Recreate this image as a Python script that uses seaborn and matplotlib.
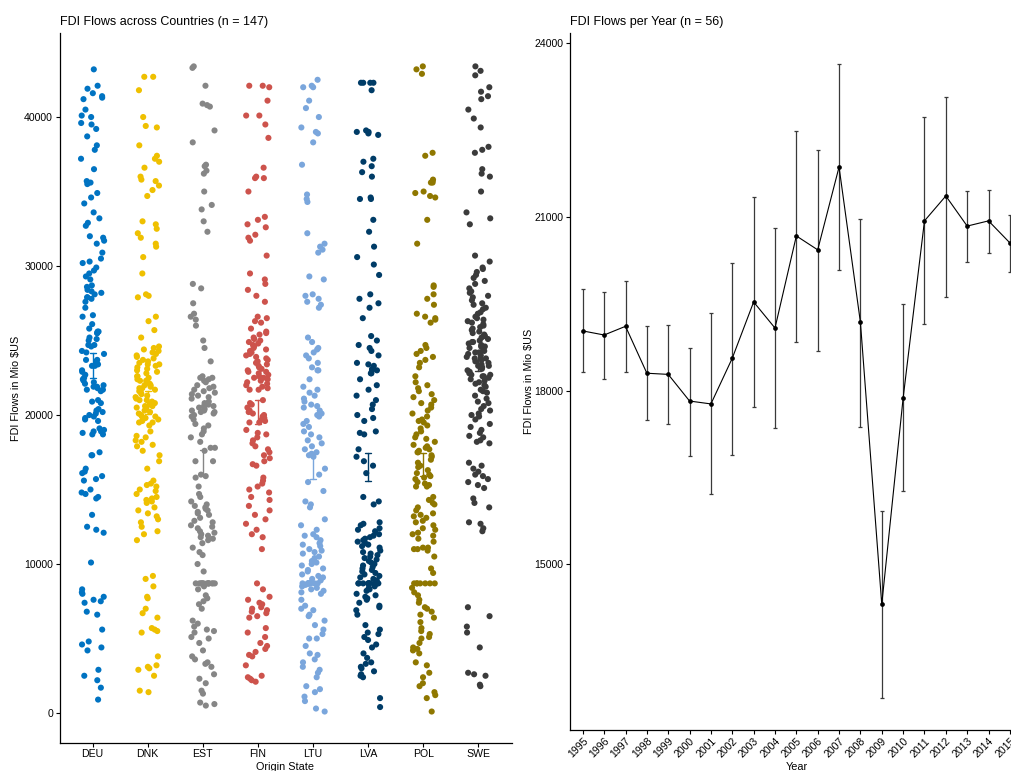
import numpy as np
import pandas as pd
import matplotlib
matplotlib.use("Agg")
import matplotlib.pyplot as plt
import seaborn as sns

# ---------------------------------------------------------------- data
countries = ["DEU", "DNK", "EST", "FIN", "LTU", "LVA", "POL", "SWE"]
country_colors = ["#0073C2", "#EFC000", "#868686", "#CD534C",
                  "#7AA6DC", "#003C67", "#8F7700", "#3B3B3B"]

# FDI flows (Mio $US) per origin state, 147 observations each
deu = [43200, 42100, 41900, 41600, 41400, 41300, 41200, 40500, 40100, 40000, 39600, 39500,
       39200, 38700, 38100, 37800, 37200, 36500, 35700, 35600, 35500, 34900, 34600, 34200,
       33600, 33200, 32900, 32700, 32000, 31900, 31700, 31500, 30900, 30500, 30300, 30200,
       29900, 29700, 29500, 29300, 29100, 28700, 28600, 28400, 28300, 28200, 28100, 27900,
       27900, 27800, 27600, 27200, 26700, 26600, 26100, 25800, 25600, 25600, 25500, 25500,
       25200, 25100, 25000, 24700, 24700, 24600, 24300, 24200, 24100, 23700, 23700, 23600,
       23400, 23300, 23300, 23000, 22900, 22700, 22500, 22400, 22300, 22200, 22100, 22000,
       21900, 21900, 21800, 21700, 21700, 21600, 21000, 20900, 20800, 20400, 20300, 20200,
       20100, 20000, 19900, 19800, 19700, 19600, 19100, 19000, 18900, 18900, 18800, 18700,
       18700, 17500, 17300, 17300, 16400, 16200, 16100, 15900, 15700, 15600, 15000, 14800,
       14700, 14500, 14400, 13300, 12500, 12300, 12100, 10100, 8300, 8100, 8000, 7800, 7600,
       7500, 7400, 6800, 6600, 5600, 4800, 4600, 4400, 4200, 2900, 2500, 2200, 1700, 900]

dnk = [42700, 42700, 41800, 40000, 39400, 39300, 38100, 37400, 37200, 37000, 36600, 36000,
       35800, 35700, 35400, 35100, 34700, 33000, 32800, 32500, 32200, 31900, 31500, 31300,
       30600, 29500, 28100, 28000, 27900, 26600, 26300, 25700, 25200, 24600, 24500, 24400,
       24300, 24200, 24100, 24000, 23900, 23800, 23700, 23600, 23500, 23400, 23400, 23300,
       23200, 23100, 23000, 22900, 22800, 22600, 22600, 22500, 22400, 22300, 22300, 22200,
       22100, 22000, 22000, 21900, 21800, 21800, 21700, 21600, 21500, 21400, 21300, 21200,
       21100, 21000, 21000, 20900, 20800, 20700, 20600, 20600, 20500, 20400, 20300, 20200,
       20100, 20000, 19900, 19900, 19800, 19700, 19600, 19500, 19500, 19300, 18900, 18600,
       18500, 18300, 18200, 18000, 17900, 17600, 17300, 16900, 16400, 15600, 15400, 15300,
       15200, 15000, 14900, 14700, 14500, 14400, 14300, 14200, 14100, 13800, 13600, 13400,
       13200, 13000, 12800, 12500, 12200, 12000, 11600, 9200, 9000, 8500, 7800, 7700, 7000,
       6700, 6400, 5700, 5600, 5500, 5400, 3800, 3200, 3100, 3000, 2900, 2500, 1500, 1400]

est = [43400, 43300, 42100, 40900, 40800, 40700, 39100, 38300, 36800, 36700, 36400, 36200,
       35000, 34100, 33800, 33000, 32300, 28800, 28500, 27500, 26800, 26600, 26400, 26000,
       25000, 24500, 23600, 22600, 22500, 22500, 22400, 22300, 22200, 22000, 21900, 21800,
       21700, 21600, 21500, 21400, 21300, 21200, 21100, 20900, 20800, 20700, 20600, 20600,
       20500, 20400, 20300, 20300, 20200, 20200, 20100, 20000, 19900, 19700, 19400, 19300,
       19100, 18900, 18700, 18500, 18200, 17800, 17800, 17600, 16900, 16900, 16000, 15900,
       15800, 15200, 14700, 14500, 14200, 14000, 13900, 13800, 13700, 13600, 13500, 13400,
       13300, 13100, 12900, 12800, 12600, 12500, 12400, 12200, 12100, 12000, 11900, 11800,
       11700, 11600, 11400, 11100, 10800, 10600, 10000, 9500, 8700, 8700, 8700, 8700, 8700,
       8700, 8700, 8700, 8700, 8700, 8700, 8700, 8700, 8500, 8300, 7900, 7700, 7500, 7300,
       7000, 6200, 6000, 5800, 5600, 5500, 5400, 5100, 5000, 4700, 4200, 3800, 3600, 3400,
       3300, 3100, 2600, 2300, 2000, 1500, 1300, 700, 600, 500]

fin = [42100, 42100, 42000, 41100, 40100, 40100, 39500, 38600, 36600, 36000, 35900, 35900,
       35000, 33300, 33100, 32800, 32600, 32100, 31900, 31700, 30700, 29500, 29100, 28800,
       28400, 28000, 27600, 26600, 26500, 26300, 26200, 25800, 25600, 25500, 25400, 25200,
       25100, 25000, 24900, 24800, 24700, 24600, 24500, 24400, 24300, 24200, 24100, 24000,
       23900, 23800, 23700, 23600, 23500, 23400, 23300, 23200, 23100, 23000, 22900, 22900,
       22800, 22700, 22600, 22500, 22500, 22400, 22300, 22200, 22100, 22000, 21900, 21800,
       21700, 21700, 21000, 20800, 20700, 20500, 20300, 20200, 20100, 20000, 19900, 19800,
       19700, 19600, 19500, 19500, 19000, 18800, 18700, 18500, 18300, 18100, 17900, 17700,
       17500, 17300, 17100, 16900, 16700, 16600, 15800, 15600, 15400, 15200, 15000, 14800,
       14500, 14300, 13900, 13600, 13300, 13000, 12700, 12300, 12000, 11800, 11000, 8700,
       8300, 7800, 7600, 7400, 7300, 7100, 7000, 6900, 6800, 6700, 6500, 6400, 5700, 5400,
       5100, 4700, 4500, 4300, 4100, 3900, 3800, 3200, 2500, 2400, 2300, 2200, 2100]

ltu = [42500, 42100, 42000, 42000, 41100, 40600, 40000, 39300, 39000, 38900, 38300, 36800,
       34800, 34500, 34300, 32200, 31500, 31300, 31100, 30900, 29300, 29100, 28100, 28000,
       27800, 27600, 27400, 27200, 25200, 24900, 24500, 24400, 24200, 24000, 23800, 23500,
       23200, 23000, 23000, 22400, 21900, 21700, 21500, 21300, 21100, 20900, 20700, 20600,
       20500, 20300, 20100, 20000, 19900, 19600, 19400, 19200, 18900, 18700, 18500, 18300,
       18100, 17900, 17700, 17500, 17400, 17300, 17200, 16400, 16000, 15500, 14900, 14200,
       14000, 13800, 13000, 12600, 12300, 12000, 11900, 11800, 11600, 11400, 11300, 11200,
       11000, 10900, 10800, 10700, 10500, 10400, 10200, 10100, 10000, 9900, 9700, 9600, 9500,
       9300, 9200, 9100, 9000, 8900, 8700, 8700, 8700, 8700, 8700, 8700, 8700, 8700, 8700,
       8700, 8600, 8500, 8400, 8300, 8200, 8100, 8000, 7600, 7200, 7000, 6900, 6600, 6500,
       6200, 5900, 5600, 5300, 5000, 5000, 4500, 4000, 3900, 3600, 3400, 3100, 2900, 2700,
       2400, 1800, 1600, 1400, 1100, 800, 300, 100]

lva = [42300, 42300, 42300, 42300, 41800, 39100, 39000, 39000, 38900, 38800, 37200, 37000,
       36700, 36300, 36000, 34600, 34500, 34500, 33100, 32300, 31300, 30600, 30100, 29400,
       28100, 27800, 27500, 27200, 26500, 25300, 25000, 24700, 24500, 24300, 24000, 23500,
       23400, 23300, 23100, 23000, 23000, 22800, 22800, 22400, 22000, 21700, 21300, 21000,
       20700, 20400, 20000, 19800, 19600, 18900, 18800, 18700, 17700, 17200, 16900, 16600,
       16100, 14500, 14200, 14000, 12800, 12700, 12600, 12400, 12300, 12200, 12000, 11900,
       11800, 11700, 11600, 11500, 11400, 11300, 11200, 11100, 10900, 10800, 10700, 10600,
       10500, 10400, 10300, 10200, 10100, 10000, 9900, 9800, 9700, 9600, 9500, 9400, 9300,
       9200, 9100, 9000, 8900, 8700, 8700, 8700, 8700, 8700, 8700, 8700, 8700, 8700, 8700,
       8700, 8700, 8500, 8400, 8300, 8200, 8000, 7900, 7800, 7700, 7600, 7400, 7200, 7100,
       6900, 6600, 5900, 5600, 5400, 5300, 5100, 4900, 4600, 4400, 4000, 3700, 3400, 3300,
       3100, 3000, 2800, 2600, 2500, 2400, 1000, 400]

pol = [43400, 43200, 42900, 37600, 37400, 35800, 35700, 35600, 35600, 35000, 34900, 34700,
       34600, 33100, 31500, 28700, 28600, 28100, 27800, 27400, 26800, 26600, 26500, 26400,
       26200, 24700, 24500, 24300, 24100, 23900, 23700, 23500, 23200, 22600, 22200, 22000,
       21800, 21600, 21400, 21200, 21000, 20800, 20700, 20500, 20300, 20100, 19900, 19700,
       19600, 19500, 19300, 19100, 18900, 18700, 18500, 18400, 18200, 18000, 17900, 17800,
       17700, 17600, 17500, 17500, 17300, 17200, 17000, 16800, 16600, 16500, 16300, 16100,
       16000, 15900, 15800, 15700, 15500, 15400, 15300, 15200, 15200, 14500, 14300, 14100,
       14000, 13800, 13600, 13400, 13300, 13200, 13100, 12900, 12800, 12600, 12400, 12300,
       12100, 12000, 11900, 11700, 11500, 11100, 11100, 11000, 11000, 10900, 10500, 9700,
       9400, 8700, 8700, 8700, 8700, 8700, 8700, 8700, 8400, 8100, 7900, 7600, 7400, 7100,
       7000, 6800, 6600, 6400, 6100, 5700, 5500, 5300, 5100, 5000, 4700, 4400, 4300, 4200,
       4000, 3400, 3200, 2700, 2400, 2000, 1800, 1400, 1200, 1000, 100]

swe = [43400, 43100, 42800, 42000, 41700, 41400, 41200, 40500, 39900, 39300, 38000, 37800,
       37600, 36500, 36200, 36000, 35000, 33600, 33200, 32800, 30700, 30300, 29900, 29800,
       29600, 29400, 29200, 29000, 28800, 28500, 28300, 28200, 28000, 27900, 27700, 27500,
       27400, 27200, 27100, 26900, 26800, 26600, 26500, 26400, 26300, 26200, 26100, 26000,
       25900, 25800, 25700, 25600, 25500, 25400, 25300, 25300, 25200, 25100, 25000, 24900,
       24900, 24800, 24700, 24600, 24600, 24500, 24400, 24300, 24200, 24200, 24100, 24000,
       23900, 23800, 23800, 23700, 23600, 23500, 23400, 23300, 23300, 23200, 23100, 23000,
       22900, 22800, 22700, 22700, 22600, 22600, 22500, 22400, 22300, 22200, 22100, 22000,
       21900, 21700, 21600, 21500, 21300, 21100, 20900, 20800, 20600, 20400, 20300, 20100,
       20000, 19900, 19700, 19400, 19200, 19000, 18800, 18600, 18500, 18300, 18200, 18100,
       16800, 16600, 16400, 16200, 16000, 15900, 15700, 15500, 15300, 15100, 14400, 14100,
       13800, 12800, 12700, 12400, 12200, 7100, 6500, 5800, 5400, 4400, 2700, 2600, 2500,
       1900, 1800]

# yearly mean with lower / upper error limits (Mio $US)
years = [str(y) for y in range(1995, 2016)]
year_mean = [19030, 18960, 19110, 18300, 18280, 17820, 17770, 18560, 19530, 19080, 20670,
             20430, 21860, 19180, 14310, 17870, 20930, 21360, 20840, 20930, 20550]
year_low = [18320, 18200, 18320, 17490, 17420, 16870, 16210, 16880, 17710, 17350, 18840,
            18680, 20080, 17380, 12690, 16260, 19150, 19610, 20220, 20370, 20040]
year_high = [19750, 19700, 19900, 19110, 19130, 18730, 19340, 20200, 21340, 20800, 22480,
             22150, 23640, 20970, 15930, 19490, 22720, 23070, 21440, 21460, 21030]

# ---------------------------------------------------------------- frames
country_values = [deu, dnk, est, fin, ltu, lva, pol, swe]
flows = pd.DataFrame({
    "country": np.repeat(countries, [len(v) for v in country_values]),
    "fdi": np.concatenate(country_values),
})

# ---------------------------------------------------------------- style
sns.set_theme(style="ticks")
plt.rcParams["font.family"] = ["Liberation Sans", "DejaVu Sans"]
plt.rcParams.update({
    "axes.edgecolor": "black",
    "axes.linewidth": 0.9,
    "xtick.color": "black",
    "ytick.color": "black",
    "xtick.major.size": 2.6,
    "ytick.major.size": 2.6,
    "xtick.major.width": 0.8,
    "ytick.major.width": 0.8,
    "xtick.major.pad": 2.0,
    "ytick.major.pad": 2.0,
    "xtick.labelsize": 7.6,
    "ytick.labelsize": 7.6,
    "axes.labelsize": 7.8,
    "text.color": "black",
    "axes.labelcolor": "black",
})

W, H = 1011, 771
fig = plt.figure(figsize=(W / 100, H / 100), dpi=100)
fig.patch.set_facecolor("white")
ax1 = fig.add_axes([59.5 / W, 1 - 743 / H, 452 / W, 710 / H])
ax2 = fig.add_axes([570 / W, 1 - 729.5 / H, 452.7 / W, 696.5 / H])

# ---------------------------------------------------------------- left panel
np.random.seed(3)
sns.stripplot(data=flows, x="country", y="fdi", hue="country", order=countries,
              hue_order=countries, palette=country_colors, jitter=0.22, size=4.4,
              linewidth=0, legend=False, ax=ax1, zorder=2)
sns.pointplot(data=flows, x="country", y="fdi", hue="country", order=countries,
              hue_order=countries, palette=country_colors, errorbar="se",
              capsize=0.11, linestyle="none", markersize=0, markeredgewidth=0,
              err_kws={"linewidth": 1.0}, legend=False, ax=ax1, zorder=3)
ax1.set_xlim(-0.6, 7.6)
ax1.set_ylim(-2013, 45640)
ax1.set_yticks([0, 10000, 20000, 30000, 40000])
ax1.set_yticklabels(["0", "10000", "20000", "30000", "40000"])
ax1.set_xlabel("Origin State", labelpad=2)
ax1.set_ylabel(r"FDI Flows in Mio \$US", labelpad=2)
ax1.set_title("FDI Flows across Countries (n = 147)", loc="left", fontsize=9, pad=5.8)
sns.despine(ax=ax1)

# ---------------------------------------------------------------- right panel
sns.pointplot(x=years, y=year_mean, color="black", errorbar=None, markersize=3.4,
              linewidth=0.8, markeredgewidth=0, ax=ax2, zorder=3)
mean_arr = np.array(year_mean)
ax2.errorbar(np.arange(len(years)), mean_arr,
             yerr=[mean_arr - np.array(year_low), np.array(year_high) - mean_arr],
             fmt="none", ecolor="#3a3a3a", elinewidth=0.9, capsize=1.4,
             capthick=0.9, zorder=2)
ax2.set_xlim(-0.6, 20.6)
ax2.set_ylim(12150, 24173)
ax2.set_yticks([15000, 18000, 21000, 24000])
ax2.set_yticklabels(["15000", "18000", "21000", "24000"])
for lbl in ax2.get_xticklabels():
    lbl.set_rotation(45)
    lbl.set_ha("right")
    lbl.set_va("top")
    lbl.set_rotation_mode("anchor")
ax2.set_xlabel("Year", labelpad=2)
ax2.set_ylabel(r"FDI Flows in Mio \$US", labelpad=0.5)
ax2.set_title("FDI Flows per Year (n = 56)", loc="left", fontsize=9, pad=5.8)
sns.despine(ax=ax2)

fig.savefig("out.png", dpi=100, facecolor="white")
